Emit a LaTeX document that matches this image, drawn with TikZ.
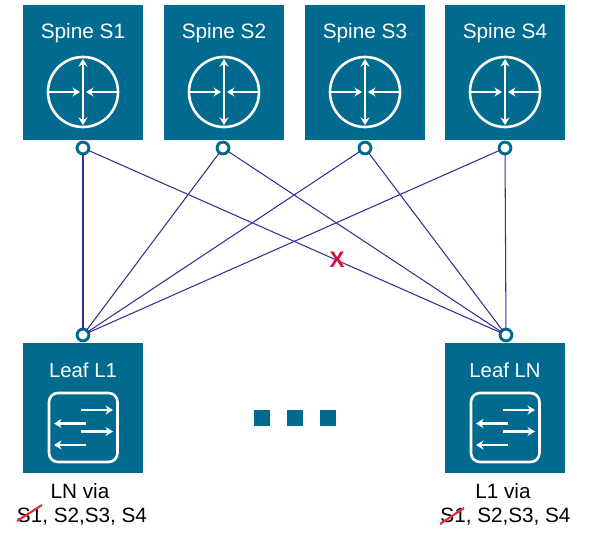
\documentclass[tikz,border=0pt]{standalone}
\usepackage{fontspec}
\setmainfont{Liberation Sans}
\usetikzlibrary{arrows.meta}
\definecolor{boxteal}{HTML}{006A8F}
\definecolor{linknavy}{HTML}{2E3192}
\definecolor{strikered}{HTML}{E0303C}
\definecolor{xred}{HTML}{D5103C}
\tikzset{
  spinebox/.style={fill=boxteal,draw=none,minimum width=120pt,minimum height=135pt,inner sep=0pt,outer sep=0pt},
  leafbox/.style={fill=boxteal,draw=none,minimum width=120pt,minimum height=130pt,inner sep=0pt,outer sep=0pt},
  spinetext/.style={text=white,anchor=base,inner sep=0pt,font=\fontsize{20.8pt}{24pt}\selectfont},
  leaftext/.style={text=white,anchor=base,inner sep=0pt,font=\fontsize{20.3pt}{22pt}\selectfont},
  captext/.style={text=black,anchor=base,inner sep=0pt,font=\fontsize{20.7pt}{22pt}\selectfont},
  port/.style={circle,draw=boxteal,fill=white,line width=2.9pt,minimum size=11.8pt,inner sep=0pt,outer sep=0pt},
  link/.style={draw=linknavy,line width=1.05pt},
  iconline/.style={draw=white,line width=2.6pt},
  iconarrow/.style={draw=white,line width=2.6pt,-{Stealth[length=7.5pt,width=9pt]}},
  iconboth/.style={draw=white,line width=2.6pt,{Stealth[length=7.5pt,width=9pt]}-{Stealth[length=7.5pt,width=9pt]}},
  strike/.style={draw=strikered,line width=2.2pt},
  dot/.style={fill=boxteal,draw=none,minimum size=16pt,inner sep=0pt},
  spineicon/.pic={
    \draw[iconline] (0,0) circle[radius=35pt];
    \draw[iconboth] (0,-33) -- (0,33);
    \draw[iconarrow] (-34,0) -- (-3,0);
    \draw[iconarrow] (34,0) -- (3,0);
  },
  leaficon/.pic={
    \draw[iconline,rounded corners=9pt] (-34,-34.5) rectangle (34.5,34.5);
    \draw[iconarrow] (-2,-17.5) -- (30,-17.5);
    \draw[iconarrow] (3,-4) -- (-29,-4);
    \draw[iconarrow] (-2,4) -- (30,4);
    \draw[iconarrow] (3,17.5) -- (-29,17.5);
  }
}
\begin{document}
\begin{tikzpicture}[x=1pt,y=-1pt]
\useasboundingbox (0,0) rectangle (591,546);
% spine boxes
\node[spinebox] (s1) at (83,72.5) {};
\node[spinebox] (s2) at (224,72.5) {};
\node[spinebox] (s3) at (365,72.5) {};
\node[spinebox] (s4) at (505,72.5) {};
\node[spinetext] (s1t) at (83,38) {Spine S1};
\node[spinetext] (s2t) at (224,38) {Spine S2};
\node[spinetext] (s3t) at (365,38) {Spine S3};
\node[spinetext] (s4t) at (505,38) {Spine S4};
\pic at (83,92) {spineicon};
\pic at (224,92) {spineicon};
\pic at (365,92) {spineicon};
\pic at (505,92) {spineicon};
% leaf boxes
\node[leafbox] (l1) at (83,408) {};
\node[leafbox] (ln) at (505,408) {};
\node[leaftext] (l1t) at (83,377) {Leaf L1};
\node[leaftext] (lnt) at (505,377) {Leaf LN};
\pic at (83,427.5) {leaficon};
\pic at (505,427.5) {leaficon};
% ports
\node[port] (ps1) at (83,148) {};
\node[port] (ps2) at (223,148) {};
\node[port] (ps3) at (365,148) {};
\node[port] (ps4) at (505,148) {};
\node[port] (pl1) at (83,335) {};
\node[port] (pln) at (506,335) {};
% links
\draw[link] (ps1) -- (pl1);
\draw[link] (ps1) -- (pln);
\draw[link] (ps2) -- (pl1);
\draw[link] (ps2) -- (pln);
\draw[link] (ps3) -- (pl1);
\draw[link] (ps3) -- (pln);
\draw[link] (ps4) -- (pl1);
\draw[link] (ps4) -- (pln);
\node[text=xred,inner sep=0pt,font=\bfseries\fontsize{22.5pt}{24pt}\selectfont] (x) at (337,260) {X};
% dots
\node[dot] (d1) at (262,418) {};
\node[dot] (d2) at (295,418) {};
\node[dot] (d3) at (328,418) {};
% captions
\node[captext] (c1a) at (80,498) {LN via};
\node[captext] (c1b) at (82,522) {S1, S2,S3, S4};
\node[captext] (c2a) at (503,498) {L1 via};
\node[captext] (c2b) at (505.5,522) {S1, S2,S3, S4};
\draw[strike] (17,521) -- (42,505);
\draw[strike] (440,524) -- (464,508);
\end{tikzpicture}
\end{document}
